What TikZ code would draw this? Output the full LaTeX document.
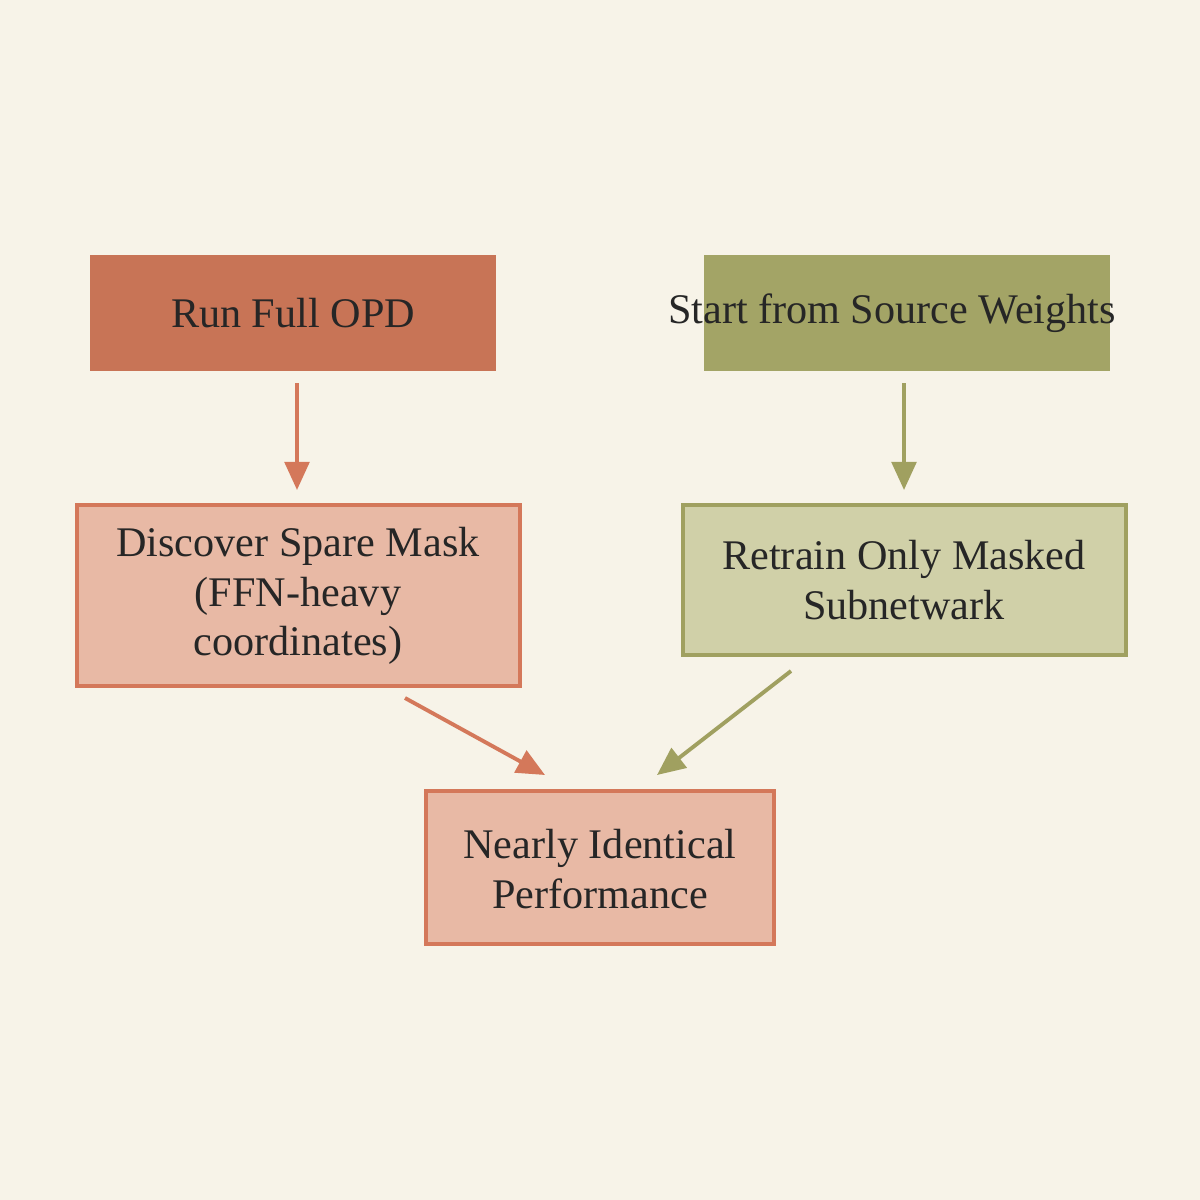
\documentclass[tikz,border=0pt]{standalone}
\usepackage{fontspec}
\setmainfont{Liberation Serif}
\usetikzlibrary{arrows.meta}
\definecolor{bg}{HTML}{F7F3E8}
\definecolor{rust}{HTML}{C87456}
\definecolor{rustd}{HTML}{D4785A}
\definecolor{rustl}{HTML}{E8B9A5}
\definecolor{oli}{HTML}{A3A466}
\definecolor{olid}{HTML}{A0A060}
\definecolor{olil}{HTML}{D0D0A8}
\begin{document}
\begin{tikzpicture}[x=0.01cm,y=-0.01cm,
  txt/.style={font=\fontsize{12}{14}\selectfont,align=center,text=black!85},
  arr/.style={line width=1.1pt,-{Triangle[length=8pt,width=7pt]}}]
\fill[bg] (0,0) rectangle (1200,1200);
\useasboundingbox (0,0) rectangle (1200,1200);
\fill[rust] (90,255) rectangle (496,371);
\node[txt] (a) at (293,313) {Run Full OPD};
\fill[oli] (704,255) rectangle (1110,371);
\node[txt] (b) at (892,313) {Start from Source Weights};
\filldraw[fill=rustl,draw=rustd,line width=1pt] (77,505) rectangle (520,686);
\node[txt] (c) at (298,596) {Discover Spare Mask\\(FFN-heavy\\coordinates)};
\filldraw[fill=olil,draw=olid,line width=1pt] (683,505) rectangle (1126,655);
\node[txt] (d) at (904,580) {Retrain Only Masked\\Subnetwark};
\filldraw[fill=rustl,draw=rustd,line width=1pt] (426,791) rectangle (774,944);
\node[txt] (e) at (600,869) {Nearly Identical\\Performance};
\coordinate (a1) at (297,383); \coordinate (a2) at (297,490);
\coordinate (b1) at (904,383); \coordinate (b2) at (904,490);
\coordinate (c1) at (405,698); \coordinate (c2) at (545,775);
\coordinate (d1) at (791,671); \coordinate (d2) at (657,775);
\draw[arr,draw=rustd,fill=rustd] (a1) -- (a2);
\draw[arr,draw=olid,fill=olid] (b1) -- (b2);
\draw[arr,draw=rustd,fill=rustd] (c1) -- (c2);
\draw[arr,draw=olid,fill=olid] (d1) -- (d2);
\end{tikzpicture}
\end{document}
